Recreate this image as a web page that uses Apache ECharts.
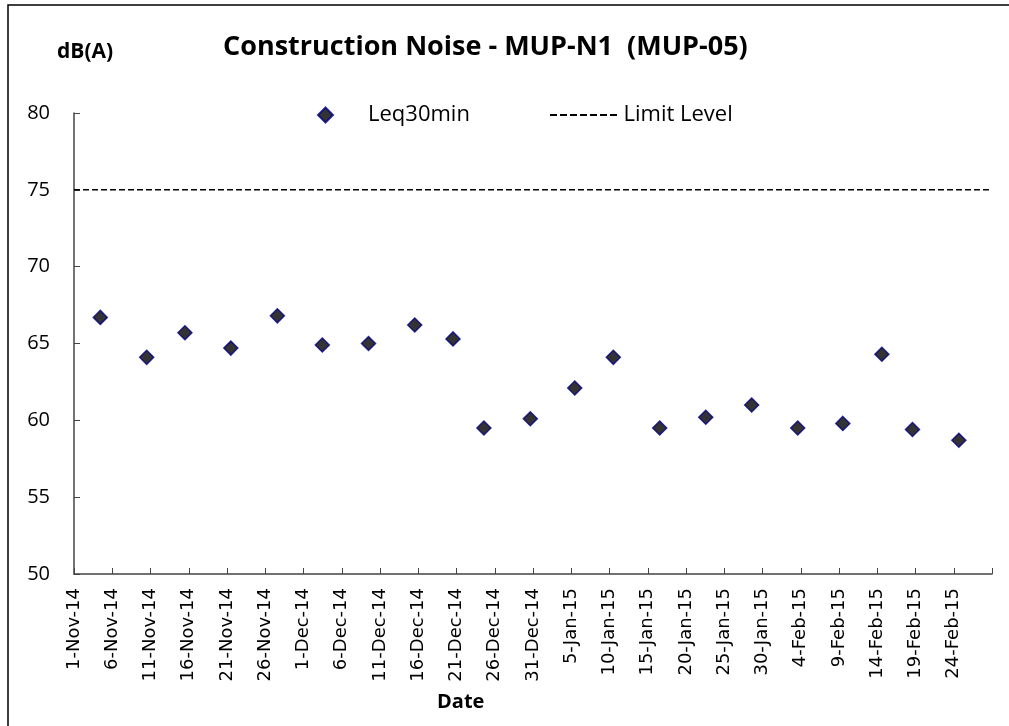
<!DOCTYPE html>
<html>
<head>
<meta charset="utf-8">
<script src="https://cdn.jsdelivr.net/npm/echarts@6/dist/echarts.min.js"></script>
<style>
  html, body { margin: 0; padding: 0; background: #fff; }
  #chart { width: 1009px; height: 726px; }
</style>
</head>
<body>
<div id="chart"></div>
<script>
// measurement dates and Leq30min readings, dB(A)
let sampleDates = [
  '2014-11-04 10:30', '2014-11-10 12:00', '2014-11-15 12:00', '2014-11-21 12:00',
  '2014-11-27 14:00', '2014-12-03 11:00', '2014-12-09 12:00', '2014-12-15 13:00',
  '2014-12-20 13:00', '2014-12-24 14:00', '2014-12-30 15:30', '2015-01-05 11:00',
  '2015-01-10 12:00', '2015-01-16 13:30', '2015-01-22 14:00', '2015-01-28 14:00',
  '2015-02-03 14:30', '2015-02-09 12:00', '2015-02-14 14:30', '2015-02-18 14:30',
  '2015-02-24 16:00'
];
let leqValues = [
  66.7, 64.1, 65.7, 64.7, 66.8, 64.9, 65.0, 66.2, 65.3, 59.5, 60.1, 62.1,
  64.1, 59.5, 60.2, 61.0, 59.5, 59.8, 64.3, 59.4, 58.7
];
let limitDates = ['2014-11-01', '2015-03-01'];
let limitValues = [75, 75];
let months = ['Jan', 'Feb', 'Mar', 'Apr', 'May', 'Jun', 'Jul', 'Aug', 'Sep', 'Oct', 'Nov', 'Dec'];

const DAY = 86400000;
const start = Date.UTC(2014, 10, 1);

// x axis works in days since 1-Nov-14
function toDay(s) {
  let p = s.split(/[- :]/).map(Number);
  let t = Date.UTC(p[0], p[1] - 1, p[2], p[3] || 0, p[4] || 0);
  return (t - start) / DAY;
}

function dayLabel(v) {
  if (v >= 120) return '';
  let d = new Date(start + v * DAY);
  return d.getUTCDate() + '-' + months[d.getUTCMonth()] + '-' + String(d.getUTCFullYear()).slice(2);
}

let leqData = sampleDates.map((s, i) => [toDay(s), leqValues[i]]);
let limitData = limitDates.map((s, i) => [toDay(s), limitValues[i]]);

// dashed legend icon, 7 short dashes
let dashIcon = 'path://M0,0H7V2H0Z M10,0H17V2H10Z M20,0H27V2H20Z M30,0H37V2H30Z M40,0H47V2H40Z M50,0H57V2H50Z M60,0H67V2H60Z';

let chart = echarts.init(document.querySelector('#chart'));

let axisColor = '#444';
let option = {
  animation: false,
  backgroundColor: '#fff',
  title: {
    text: 'Construction Noise - MUP-N1  (MUP-05)',
    left: 218,
    top: 29,
    textStyle: { fontFamily: 'Open Sans', fontWeight: 'bold', fontSize: 27, color: '#000' }
  },
  graphic: [
    {
      type: 'rect',
      shape: { x: 8, y: 5, width: 1010, height: 730 },
      style: { fill: 'none', stroke: '#000', lineWidth: 1.5 },
      silent: true
    },
    {
      type: 'text', left: 57, top: 42,
      style: { text: 'dB(A)', fontFamily: 'Open Sans', fontWeight: 'bold', fontSize: 21, fill: '#000' }
    },
    {
      type: 'text', left: 437, top: 692,
      style: { text: 'Date', fontFamily: 'Open Sans', fontWeight: 'bold', fontSize: 20, fill: '#000' }
    }
  ],
  legend: [
    {
      data: ['Leq30min'],
      left: 312,
      top: 99,
      itemWidth: 15,
      itemHeight: 15,
      textStyle: { fontFamily: 'Open Sans', fontSize: 22, color: '#000', padding: [0, 0, 0, 30] }
    },
    {
      data: [{ name: 'Limit Level', icon: dashIcon }],
      left: 545,
      top: 99,
      itemWidth: 70,
      itemHeight: 2,
      itemStyle: { color: '#000' },
      textStyle: { fontFamily: 'Open Sans', fontSize: 22, color: '#000', padding: [0, 0, 0, 0] }
    }
  ],
  grid: { left: 74, right: 17, top: 113, bottom: 152, containLabel: false },
  xAxis: {
    type: 'value',
    min: 0,
    max: 120,
    interval: 5,
    axisLine: { show: true, lineStyle: { color: axisColor, width: 1.5 } },
    axisTick: { show: true, inside: true, length: 6, lineStyle: { color: axisColor } },
    splitLine: { show: false },
    axisLabel: {
      rotate: 90,
      margin: 14,
      fontFamily: 'DejaVu Sans',
      fontSize: 18,
      color: '#000',
      formatter: dayLabel,
      showMaxLabel: true
    }
  },
  yAxis: {
    type: 'value',
    min: 50,
    max: 80,
    interval: 5,
    axisLine: { show: true, lineStyle: { color: axisColor, width: 1.5 } },
    axisTick: { show: true, inside: true, length: 6, lineStyle: { color: axisColor } },
    splitLine: { show: false },
    axisLabel: { margin: 24, fontFamily: 'Open Sans', fontSize: 20, color: '#000' }
  },
  series: [
    {
      name: 'Leq30min',
      type: 'scatter',
      symbol: 'diamond',
      symbolSize: 14,
      itemStyle: { color: '#000', borderColor: '#000080', borderWidth: 1.5 },
      data: leqData
    },
    {
      name: 'Limit Level',
      type: 'line',
      symbol: 'none',
      lineStyle: { color: '#000', width: 1.5, type: [6, 3] },
      itemStyle: { color: '#000' },
      data: limitData
    }
  ]
};
chart.setOption(option);
</script>
</body>
</html>
